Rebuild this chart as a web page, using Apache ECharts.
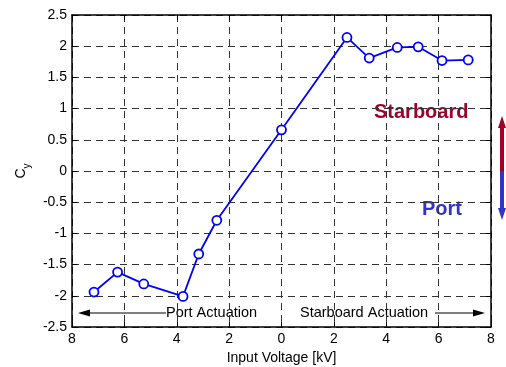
<!DOCTYPE html>
<html>
<head>
<meta charset="utf-8">
<script src="https://cdn.jsdelivr.net/npm/echarts@6/dist/echarts.min.js"></script>
<style>
  html, body { margin: 0; padding: 0; background: #fff; }
  #chart { width: 506px; height: 367px; }
</style>
</head>
<body>
<div id="chart"></div>
<script>
// input voltage (negative = port side), Cy
const voltage = [-7.16, -6.26, -5.26, -3.76, -3.16, -2.47, 0, 2.5, 3.35, 4.42, 5.22, 6.13, 7.13]
const cy = [-1.94, -1.62, -1.81, -2.01, -1.33, -0.79, 0.66, 2.14, 1.81, 1.98, 1.99, 1.77, 1.78]
const xTicks = [-8, -6, -4, -2, 0, 2, 4, 6, 8]
const yTicks = [-2.5, -2, -1.5, -1, -0.5, 0, 0.5, 1, 1.5, 2, 2.5]

const chart = echarts.init(document.getElementById('chart'))

const fontFamily = 'Liberation Sans, Arial, sans-serif'
const gridDash = { color: '#333', type: [7, 5], width: 1 }

const tickInside = { show: true, inside: true, length: 5, lineStyle: { color: '#000' } }

const option = {
  backgroundColor: '#fff',
  animation: false,
  grid: { left: 72, right: 15, top: 15, bottom: 40, outerBoundsMode: 'none', containLabel: false },
  xAxis: [
    {
      type: 'value',
      min: xTicks[0],
      max: xTicks[xTicks.length - 1],
      interval: 2,
      name: 'Input Voltage [kV]',
      nameLocation: 'middle',
      nameGap: 21,
      nameTextStyle: { color: '#000', fontSize: 14, fontFamily },
      axisLine: { show: true, onZero: false, lineStyle: { color: '#000', width: 1.5 } },
      axisTick: tickInside,
      axisLabel: {
        color: '#000', fontSize: 14, fontFamily, margin: 5,
        formatter: (v) => String(Math.abs(v))
      },
      splitLine: { show: true, lineStyle: gridDash }
    },
    {
      type: 'value',
      position: 'top',
      min: xTicks[0],
      max: xTicks[xTicks.length - 1],
      interval: 2,
      axisLine: { show: true, onZero: false, lineStyle: { color: '#000', width: 1.5 } },
      axisTick: tickInside,
      axisLabel: { show: false },
      splitLine: { show: false }
    }
  ],
  yAxis: [
    {
      type: 'value',
      min: yTicks[0],
      max: yTicks[yTicks.length - 1],
      interval: 0.5,
      name: '{c|C}{s|y}',
      nameLocation: 'middle',
      nameGap: 43,
      nameTextStyle: {
        rich: {
          c: { fontSize: 14, fontFamily, color: '#000', verticalAlign: 'bottom', lineHeight: 18 },
          s: { fontSize: 10, fontFamily, color: '#000', verticalAlign: 'bottom', padding: [0, 0, -4, 0] }
        }
      },
      axisLine: { show: true, onZero: false, lineStyle: { color: '#000', width: 1.5 } },
      axisTick: tickInside,
      axisLabel: { color: '#000', fontSize: 14, fontFamily, margin: 5 },
      splitLine: { show: true, lineStyle: gridDash }
    },
    {
      type: 'value',
      position: 'right',
      min: yTicks[0],
      max: yTicks[yTicks.length - 1],
      interval: 0.5,
      axisLine: { show: true, onZero: false, lineStyle: { color: '#000', width: 1.5 } },
      axisTick: tickInside,
      axisLabel: { show: false },
      splitLine: { show: false }
    }
  ],
  series: [
    {
      type: 'line',
      data: voltage.map((v, i) => [v, cy[i]]),
      symbol: 'circle',
      symbolSize: 9,
      showSymbol: true,
      lineStyle: { color: '#0000ff', width: 1.8 },
      itemStyle: { color: '#fff', borderColor: '#0000ff', borderWidth: 1.8 },
      z: 5
    }
  ],
  graphic: [
    // bottom annotations
    { type: 'line', shape: { x1: 82, y1: 313, x2: 166, y2: 313 }, style: { stroke: '#000', lineWidth: 1 } },
    { type: 'polygon', shape: { points: [[78, 313], [90, 309.5], [90, 316.5]] }, style: { fill: '#000' } },
    { type: 'text', left: 166, top: 305, style: { text: 'Port Actuation', fill: '#000', fontSize: 14.5, fontFamily } },
    { type: 'text', left: 300, top: 305, style: { text: 'Starboard Actuation', fill: '#000', fontSize: 14.5, fontFamily } },
    { type: 'line', shape: { x1: 435, y1: 313, x2: 482, y2: 313 }, style: { stroke: '#000', lineWidth: 1 } },
    { type: 'polygon', shape: { points: [[485, 313], [473, 309.5], [473, 316.5]] }, style: { fill: '#000' } },
    // direction labels
    { type: 'text', left: 374, top: 102, style: { text: 'Starboard', fill: '#a0002a', fontSize: 20, fontWeight: 'bold', fontFamily } },
    { type: 'text', left: 422, top: 199, style: { text: 'Port', fill: '#3333cc', fontSize: 20, fontWeight: 'bold', fontFamily } },
    // side arrow
    { type: 'rect', shape: { x: 500, y: 124, width: 4, height: 48 }, style: { fill: '#a0002a' } },
    { type: 'polygon', shape: { points: [[502, 116], [498, 128], [506, 128]] }, style: { fill: '#a0002a' } },
    { type: 'rect', shape: { x: 500, y: 171, width: 4, height: 40 }, style: { fill: '#3333cc' } },
    { type: 'polygon', shape: { points: [[502, 220], [498, 208], [506, 208]] }, style: { fill: '#3333cc' } }
  ]
}

chart.setOption(option)
window.addEventListener('resize', () => chart.resize())
</script>
</body>
</html>
